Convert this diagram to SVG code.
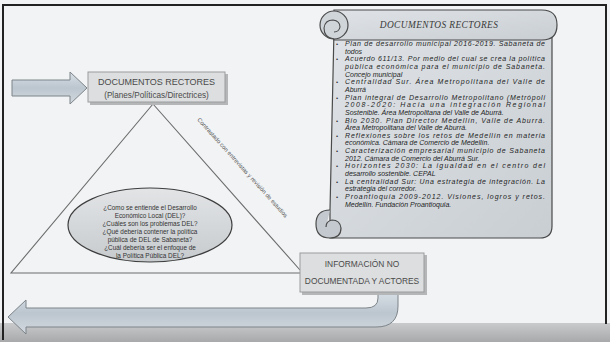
<svg xmlns="http://www.w3.org/2000/svg" width="610" height="342" viewBox="0 0 610 342">
<defs>
<linearGradient id="scrollG" x1="0" y1="0" x2="1" y2="1">
<stop offset="0" stop-color="#dfe3e7"/>
<stop offset="1" stop-color="#c9ced3"/>
</linearGradient>
<linearGradient id="arrowG" x1="0" y1="0" x2="0" y2="1">
<stop offset="0" stop-color="#d8dfe6"/>
<stop offset="0.5" stop-color="#bcc6cf"/>
<stop offset="1" stop-color="#d3d9df"/>
</linearGradient>
<linearGradient id="ellG" x1="0" y1="0" x2="0" y2="1">
<stop offset="0" stop-color="#e2e4e6"/>
<stop offset="1" stop-color="#c7cbce"/>
</linearGradient>
<linearGradient id="bandG" x1="0" y1="0" x2="0" y2="1">
<stop offset="0" stop-color="#c8cacc"/>
<stop offset="1" stop-color="#a7a9ab"/>
</linearGradient>
</defs>
<style>
.box{fill:#dcdedf;stroke:#9a9c9e;stroke-width:1}
.shadow{fill:#b4b6b8}
.ttl{font-family:"Liberation Sans",Arial,sans-serif;fill:#4a4a4a;text-anchor:middle}
.line{stroke:#6c6c6c;stroke-width:1.1;fill:none}
.q{font-family:"Liberation Sans",Arial,sans-serif;font-size:6.4px;fill:#333;text-anchor:middle}
.li{font-family:"Liberation Sans",Arial,sans-serif;font-size:7px;font-style:italic;fill:#1e1e1e}
.bul{font-family:"Liberation Sans",Arial,sans-serif;font-size:6px;fill:#333}
.arrow{fill:url(#arrowG);stroke:#7d8489;stroke-width:1}
</style>
<rect x="0" y="0" width="610" height="342" fill="#f1f3f4"/>
<rect x="0" y="323" width="610" height="19" fill="url(#bandG)"/>
<path d="M3 340 V5 H606 V324" fill="none" stroke="#222" stroke-width="2"/>

<g id="connectors">
<path class="line" d="M153 104 L11 273 L300 273 M153 104 L300 270"/>
<text font-family="Liberation Sans,Arial,sans-serif" font-size="5.9" fill="#555" transform="translate(197 120) rotate(48)">Contrastado con entrevistas y revisión de estudios</text>
<path class="arrow" d="M12 80 H70 V72 L87 88 L70 104 V96 H12 Z"/>
<path class="arrow" d="M398 292 V306 Q398 327 376 327 H26 V334 L8 317 L26 300 V308 H366 Q378 308 378 298 V292 Z"/>
</g>

<g id="doc-rectores">
<rect class="shadow" x="90" y="74" width="138" height="31"/>
<rect class="box" x="88" y="72" width="137" height="30"/>
<text class="ttl" x="156.5" y="85" font-size="9">DOCUMENTOS RECTORES</text>
<text class="ttl" x="156.5" y="98" font-size="8.2">(Planes/Políticas/Directrices)</text>
</g>

<g id="preguntas">
<ellipse cx="150" cy="225" rx="82" ry="37" fill="url(#ellG)" stroke="#3e3e3e" stroke-width="1.2"/>
<text class="q" x="150" y="210">¿Como se entiende el Desarrollo</text>
<text class="q" x="150" y="218">Económico Local (DEL)?</text>
<text class="q" x="150" y="226">¿Cuáles son los problemas DEL?</text>
<text class="q" x="150" y="234">¿Qué debería contener la política</text>
<text class="q" x="150" y="242">pública de DEL de Sabaneta?</text>
<text class="q" x="150" y="250">¿Cuál debería ser el enfoque de</text>
<text class="q" x="150" y="258">la Política Pública DEL?</text>
</g>

<g id="info-no-doc">
<rect class="shadow" x="302" y="255" width="125" height="40"/>
<rect class="box" x="300" y="253" width="124" height="39"/>
<text class="ttl" x="362" y="267" font-size="8.4">INFORMACIÓN NO</text>
<text class="ttl" x="362" y="284" font-size="8.4">DOCUMENTADA Y ACTORES</text>
</g>

<g id="scroll">
<path d="M334 30 H552 V226 Q552 238 540 238 H330 V210 Z" fill="url(#scrollG)" stroke="#4a4a4a" stroke-width="1.2"/>
<path d="M334 10 H542 Q557 10 557 25 Q557 40 542 40 H334 Z" fill="url(#scrollG)" stroke="#4a4a4a" stroke-width="1.2"/>
<circle cx="334" cy="25" r="14" fill="#d0d5da" stroke="#4a4a4a" stroke-width="1.2"/>
<path d="M334 39 Q324 38 324 28 Q325 20 333 20 Q340 21 340 27 Q339 32 334 32" fill="none" stroke="#4a4a4a" stroke-width="1.1"/>
<path d="M330 210 Q316 210 316 224 Q316 238 330 238 Q341 238 341 228 Q340 220 332 220 Q326 221 326 227" fill="#c3c9ce" stroke="#4a4a4a" stroke-width="1.2"/>
<text x="439" y="28" font-family="Liberation Serif,serif" font-style="italic" font-size="9.4" fill="#3a3a3a" text-anchor="middle" letter-spacing="0.4">DOCUMENTOS RECTORES</text>
<g class="bul">
<text x="336" y="46">•</text>
<text x="336" y="61.3">•</text>
<text x="336" y="84.3">•</text>
<text x="336" y="99.6">•</text>
<text x="336" y="122.5">•</text>
<text x="336" y="137.8">•</text>
<text x="336" y="153.1">•</text>
<text x="336" y="168.4">•</text>
<text x="336" y="183.7">•</text>
<text x="336" y="199">•</text>
</g>
<g class="li">
<text x="345" y="46" textLength="200" lengthAdjust="spacing">Plan de desarrollo municipal 2016-2019. Sabaneta de</text>
<text x="345" y="53.65">todos</text>
<text x="345" y="61.3" textLength="200" lengthAdjust="spacing">Acuerdo 611/13. Por medio del cual se crea la política</text>
<text x="345" y="68.95" textLength="200" lengthAdjust="spacing">pública económica para el municipio de Sabaneta.</text>
<text x="345" y="76.6">Concejo municipal</text>
<text x="345" y="84.25" textLength="200" lengthAdjust="spacing">Centralidad Sur. Área Metropolitana del Valle de</text>
<text x="345" y="91.9">Aburrá</text>
<text x="345" y="99.55" textLength="200" lengthAdjust="spacing">Plan integral de Desarrollo Metropolitano (Metrópoli</text>
<text x="345" y="107.2" textLength="200" lengthAdjust="spacing">2008-2020: Hacia una integración Regional</text>
<text x="345" y="114.85">Sostenible. Área Metropolitana del Valle de Aburrá.</text>
<text x="345" y="122.5" textLength="200" lengthAdjust="spacing">Bio 2030. Plan Director Medellín, Valle de Aburrá.</text>
<text x="345" y="130.15">Área Metropolitana del Valle de Aburrá.</text>
<text x="345" y="137.8" textLength="200" lengthAdjust="spacing">Reflexiones sobre los retos de Medellín en materia</text>
<text x="345" y="145.45">económica. Cámara de Comercio de Medellín.</text>
<text x="345" y="153.1" textLength="200" lengthAdjust="spacing">Caracterización empresarial municipio de Sabaneta</text>
<text x="345" y="160.75">2012. Cámara de Comercio del Aburrá Sur.</text>
<text x="345" y="168.4" textLength="200" lengthAdjust="spacing">Horizontes 2030: La igualdad en el centro del</text>
<text x="345" y="176.05">desarrollo sostenible. CEPAL</text>
<text x="345" y="183.7" textLength="200" lengthAdjust="spacing">La centralidad Sur: Una estrategia de integración. La</text>
<text x="345" y="191.35">estrategia del corredor.</text>
<text x="345" y="199" textLength="200" lengthAdjust="spacing">Proantioquia 2009-2012. Visiones, logros y retos.</text>
<text x="345" y="206.65">Medellín. Fundación Proantioquia.</text>
</g>
</g>
</svg>
